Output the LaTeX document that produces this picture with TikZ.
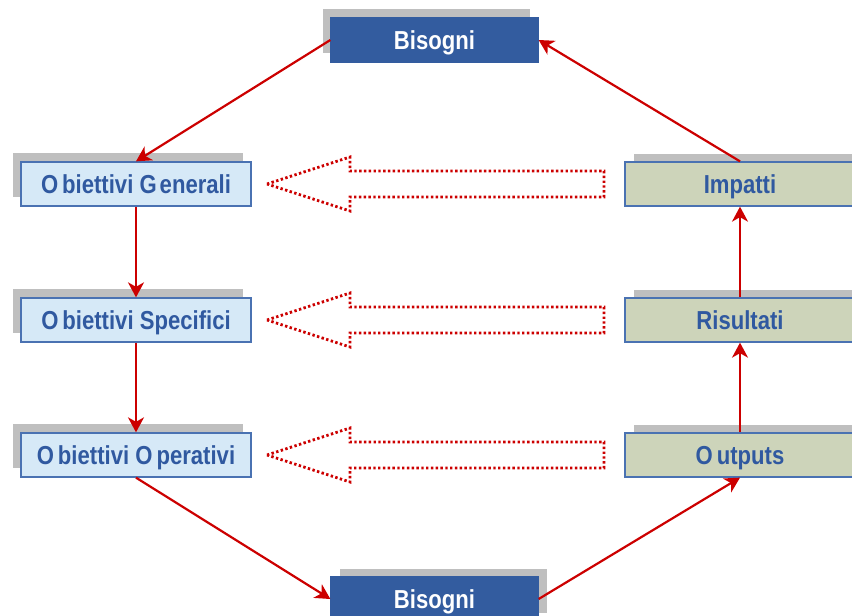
\documentclass[tikz,border=0pt]{standalone}
\usepackage{fontspec}
\setmainfont{Liberation Sans}
\newfontfamily\boxfont[FakeStretch=0.85]{Liberation Sans}
\usetikzlibrary{arrows.meta,shadows}

\definecolor{bluscuro}{HTML}{335C9F}
\definecolor{azzurro}{HTML}{D6E9F7}
\definecolor{oliva}{HTML}{CDD4BA}
\definecolor{bordo}{HTML}{4A72B2}
\definecolor{testo}{HTML}{3059A0}
\definecolor{ombra}{HTML}{BFBFBF}
\definecolor{rosso}{HTML}{CC0000}

\begin{document}
\begin{tikzpicture}[x=1pt, y=-1pt,
  casella/.style = {draw=bordo, line width=1.3pt, minimum width=230pt, minimum height=44pt, inner sep=0pt,
                    text height=20pt, text depth=1.4pt,
                    font=\boxfont\bfseries\fontsize{26}{30}\selectfont, text=testo},
  ombrasx/.style = {drop shadow={shadow xshift=-8pt, shadow yshift=9pt, fill=ombra, opacity=1}},
  ombradx/.style = {drop shadow={shadow xshift=9pt, shadow yshift=8pt, fill=ombra, opacity=1}},
  bisogno/.style = {casella, fill=bluscuro, draw=bluscuro, text=white, minimum width=207pt},
  obiettivo/.style = {casella, fill=azzurro, ombrasx},
  effetto/.style = {casella, fill=oliva, ombradx},
  freccia/.style = {draw=rosso, line width=2.2pt, -{Stealth[length=15pt, width=16pt, inset=4.5pt]}},
  vuota/.style = {draw=rosso, line width=2.8pt, dash pattern=on 2.4pt off 2.4pt},]

\useasboundingbox (0,0) rectangle (852,616);

\node[bisogno, ombrasx] (BT) at (434.5,40) {Bisogni};
\node[bisogno, ombradx] (BB) at (434.5,599) {Bisogni};
\node[obiettivo] (OG) at (136,184) {O\kern4pt biettivi G\kern3pt enerali};
\node[obiettivo] (OS) at (136,320) {O\kern4pt biettivi Specifici};
\node[obiettivo] (OO) at (136,455) {O\kern4pt biettivi O\kern4pt perativi};
\node[effetto] (IM) at (740,184) {Impatti};
\node[effetto] (RI) at (740,320) {Risultati};
\node[effetto] (OU) at (740,455) {O\kern4pt utputs};

% frecce tratteggiate
\draw[vuota] (267,184) -- (350,157) -- (350,171) -- (604,171) -- (604,197) -- (350,197) -- (350,211) -- cycle;
\draw[vuota] (267,320) -- (350,293) -- (350,307) -- (604,307) -- (604,333) -- (350,333) -- (350,347) -- cycle;
\draw[vuota] (267,455) -- (350,428) -- (350,442) -- (604,442) -- (604,468) -- (350,468) -- (350,482) -- cycle;

\draw[freccia] (BT.west) -- (OG.north);
\draw[freccia] (OG.south) -- (OS.north);
\draw[freccia] (OS.south) -- (OO.north);
\draw[freccia] (OO.south) -- (BB.west);
\draw[freccia] (BB.east) -- (OU.south);
\draw[freccia] (OU.north) -- (RI.south);
\draw[freccia] (RI.north) -- (IM.south);
\draw[freccia] (IM.north) -- (BT.east);

\end{tikzpicture}
\end{document}
